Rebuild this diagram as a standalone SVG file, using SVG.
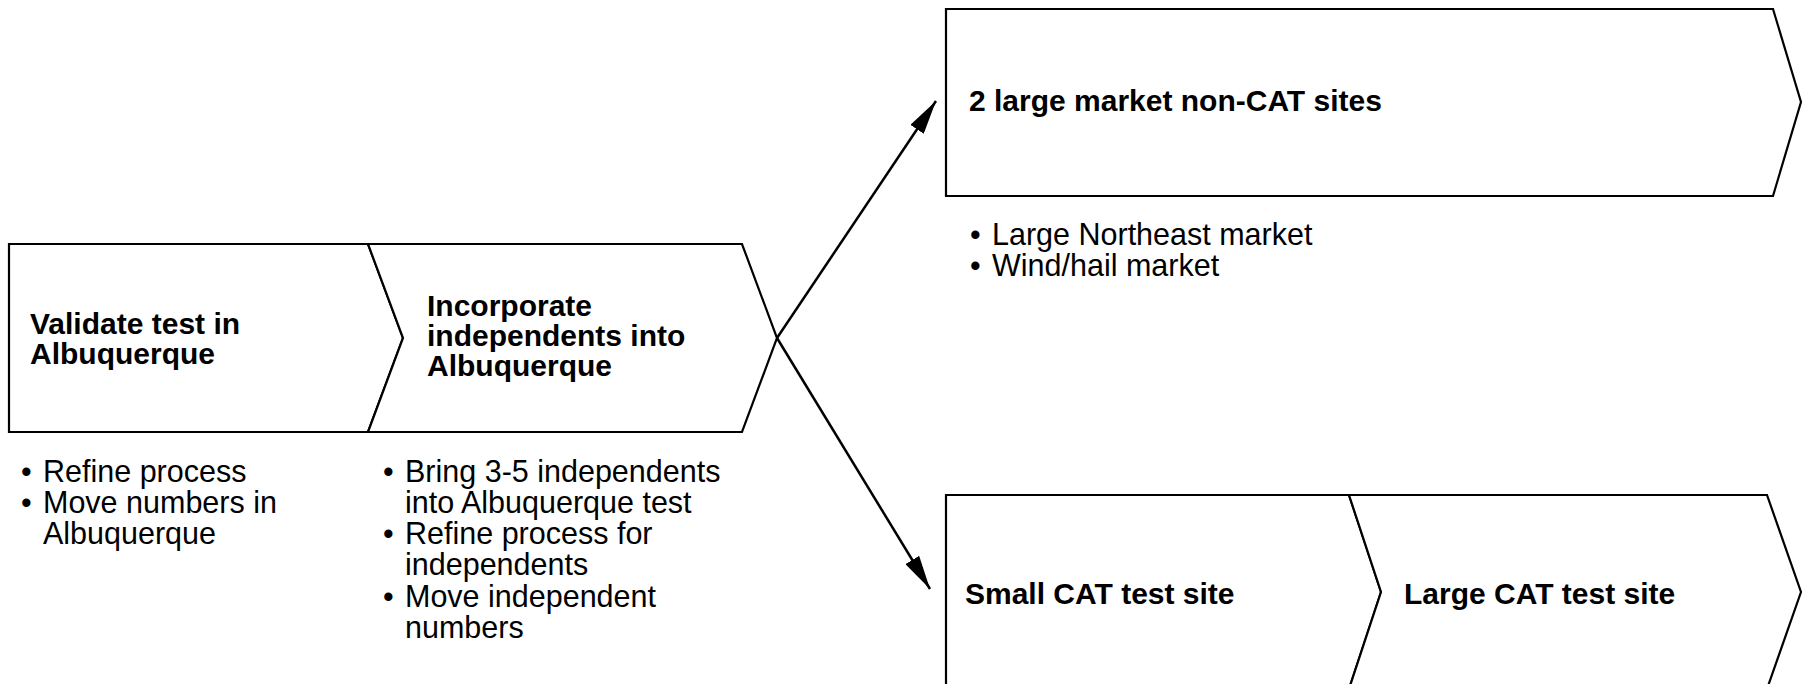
<svg xmlns="http://www.w3.org/2000/svg" width="1805" height="684" viewBox="0 0 1805 684">
  <style>
    .shape { fill: #ffffff; stroke: #000000; stroke-width: 2.2; stroke-linejoin: miter; }
    .title { font-family: "Liberation Sans", Arial, sans-serif; font-weight: bold; font-size: 30px; fill: #000000; }
    .note { font-family: "Liberation Sans", Arial, sans-serif; font-size: 30.5px; fill: #000000; }
    .link { stroke: #000000; stroke-width: 2.5; fill: none; }
  </style>
  <defs>
    <marker id="arrow" viewBox="0 0 34 16" refX="34" refY="8" markerWidth="34" markerHeight="16" markerUnits="userSpaceOnUse" orient="auto">
      <path d="M0,0 L34,8 L0,16 Z" fill="#000000"/>
    </marker>
  </defs>
  <rect width="1805" height="684" fill="#ffffff"/>

  <!-- Step 1: validate -->
  <g id="validate">
    <path class="shape" d="M9,244 L368,244 L403,338 L368,432 L9,432 Z"/>
    <text class="title" x="30" y="334">Validate test in</text>
    <text class="title" x="30" y="364">Albuquerque</text>
    <text class="note" x="21" y="482">•</text>
    <text class="note" x="43" y="482">Refine process</text>
    <text class="note" x="21" y="513">•</text>
    <text class="note" x="43" y="513">Move numbers in</text>
    <text class="note" x="43" y="544">Albuquerque</text>
  </g>

  <!-- Step 2: incorporate independents -->
  <g id="incorporate">
    <path class="shape" d="M368,244 L742,244 L777,338 L742,432 L368,432 L403,338 Z"/>
    <text class="title" x="427" y="316">Incorporate</text>
    <text class="title" x="427" y="346">independents into</text>
    <text class="title" x="427" y="376">Albuquerque</text>
    <text class="note" x="383" y="482">•</text>
    <text class="note" x="405" y="482">Bring 3-5 independents</text>
    <text class="note" x="405" y="513">into Albuquerque test</text>
    <text class="note" x="383" y="544">•</text>
    <text class="note" x="405" y="544">Refine process for</text>
    <text class="note" x="405" y="575">independents</text>
    <text class="note" x="383" y="607">•</text>
    <text class="note" x="405" y="607">Move independent</text>
    <text class="note" x="405" y="638">numbers</text>
  </g>

  <!-- Branch A: non-CAT sites -->
  <g id="noncat">
    <path class="shape" d="M946,9 L1773,9 L1801,102 L1773,196 L946,196 Z"/>
    <text class="title" x="969" y="111">2 large market non-CAT sites</text>
    <text class="note" x="970" y="245">•</text>
    <text class="note" x="992" y="245">Large Northeast market</text>
    <text class="note" x="970" y="276">•</text>
    <text class="note" x="992" y="276">Wind/hail market</text>
  </g>

  <!-- Branch B: CAT test sites -->
  <g id="smallcat">
    <path class="shape" d="M946,495 L1349,495 L1381,592 L1349,689 L946,689 Z"/>
    <text class="title" x="965" y="604">Small CAT test site</text>
  </g>
  <g id="largecat">
    <path class="shape" d="M1349,495 L1767,495 L1801,592 L1767,689 L1349,689 L1381,592 Z"/>
    <text class="title" x="1404" y="604">Large CAT test site</text>
  </g>

  <!-- Connectors -->
  <g id="connectors">
    <line class="link" x1="777" y1="338" x2="936" y2="101" marker-end="url(#arrow)"/>
    <line class="link" x1="777" y1="338" x2="930" y2="589" marker-end="url(#arrow)"/>
  </g>
</svg>
